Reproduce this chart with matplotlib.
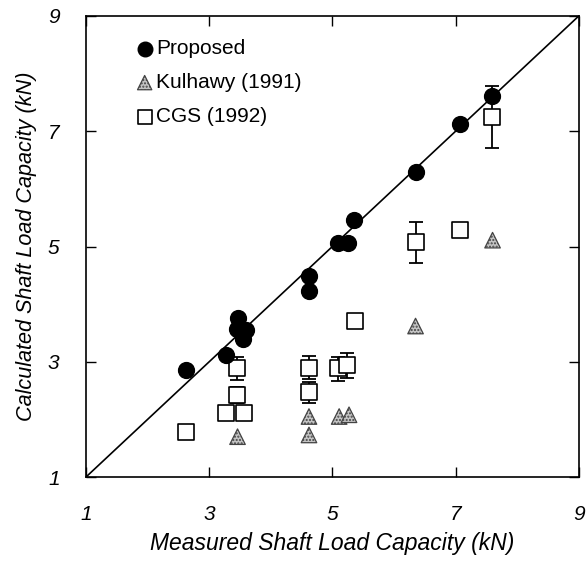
import matplotlib
matplotlib.use('Agg')
import matplotlib.pyplot as plt

plt.rcParams['font.family'] = ['Liberation Sans', 'DejaVu Sans']

# Proposed method (circles)
prop_x = [2.63, 3.27, 3.46, 3.45, 3.59, 3.55, 4.62, 4.62, 5.09, 5.25, 5.35, 6.35, 7.07, 7.59]
prop_y = [2.86, 3.12, 3.76, 3.56, 3.55, 3.39, 4.22, 4.49, 5.06, 5.06, 5.46, 6.29, 7.13, 7.62]

# Kulhawy (1991) (triangles)
kul_x = [3.46, 4.62, 4.62, 5.11, 5.27, 6.35, 7.60]
kul_y = [1.70, 1.73, 2.05, 2.05, 2.08, 3.62, 5.11]

# CGS (1992) (squares) with asymmetric error bars
cgs_x = [2.63, 3.27, 3.45, 3.45, 3.57, 4.62, 4.62, 5.09, 5.23, 5.37, 6.35, 7.07, 7.59]
cgs_y = [1.78, 2.11, 2.42, 2.90, 2.11, 2.47, 2.90, 2.90, 2.94, 3.71, 5.07, 5.28, 7.24]
cgs_lo = [0.0, 0.0, 0.14, 0.22, 0.0, 0.18, 0.20, 0.23, 0.23, 0.0, 0.36, 0.0, 0.53]
cgs_hi = [0.0, 0.0, 0.15, 0.19, 0.0, 0.18, 0.20, 0.19, 0.22, 0.0, 0.35, 0.0, 0.54]

ticks = [1, 3, 5, 7, 9]

fig = plt.figure(figsize=(5.87, 5.61), dpi=100)
ax = fig.add_axes([0.1465, 0.1497, 0.8395, 0.8218])

ax.plot([1, 9], [1, 9], color='black', lw=1.2, zorder=1)

ax.errorbar(cgs_x, cgs_y, yerr=[cgs_lo, cgs_hi], fmt='none', ecolor='black',
            elinewidth=1.3, capsize=4.7, capthick=1.3, zorder=2)
ax.scatter(cgs_x, cgs_y, marker='s', s=120, facecolor='white', edgecolor='black',
           linewidth=1.2, label='CGS (1992)', zorder=3)
ax.scatter(kul_x, kul_y, marker='^', s=125, facecolor='#c4c4c4', edgecolor='#444444',
           linewidth=0.9, hatch='.....', label='Kulhawy (1991)', zorder=3)
ax.scatter(prop_x, prop_y, marker='o', s=130, color='black', label='Proposed', zorder=4)

ax.set_xlim(1, 9)
ax.set_ylim(1, 9)
ax.set_xticks(ticks)
ax.set_yticks(ticks)
ax.set_xticklabels([str(t) for t in ticks], fontstyle='italic', fontsize=15)
ax.set_yticklabels([str(t) for t in ticks], fontstyle='italic', fontsize=15)
ax.tick_params(direction='in', length=7, width=1, top=True, right=True)
ax.tick_params(axis='x', pad=20)
ax.tick_params(axis='y', pad=19)

ax.set_xlabel('Measured Shaft Load Capacity (kN)', fontstyle='italic', fontsize=16.5, labelpad=6)
ax.set_ylabel('Calculated Shaft Load Capacity (kN)', fontstyle='italic', fontsize=15.6, labelpad=8)

handles, labels = ax.get_legend_handles_labels()
order = [2, 1, 0]
ax.legend([handles[i] for i in order], [labels[i] for i in order], loc='upper left',
          bbox_to_anchor=(0.081, 0.968), borderaxespad=0, frameon=False, fontsize=15,
          handlelength=1.0, handletextpad=0.05, labelspacing=0.72,
          markerscale=0.92, scatterpoints=1)

for sp in ax.spines.values():
    sp.set_linewidth(1.2)

plt.savefig('out.png', dpi=100)
